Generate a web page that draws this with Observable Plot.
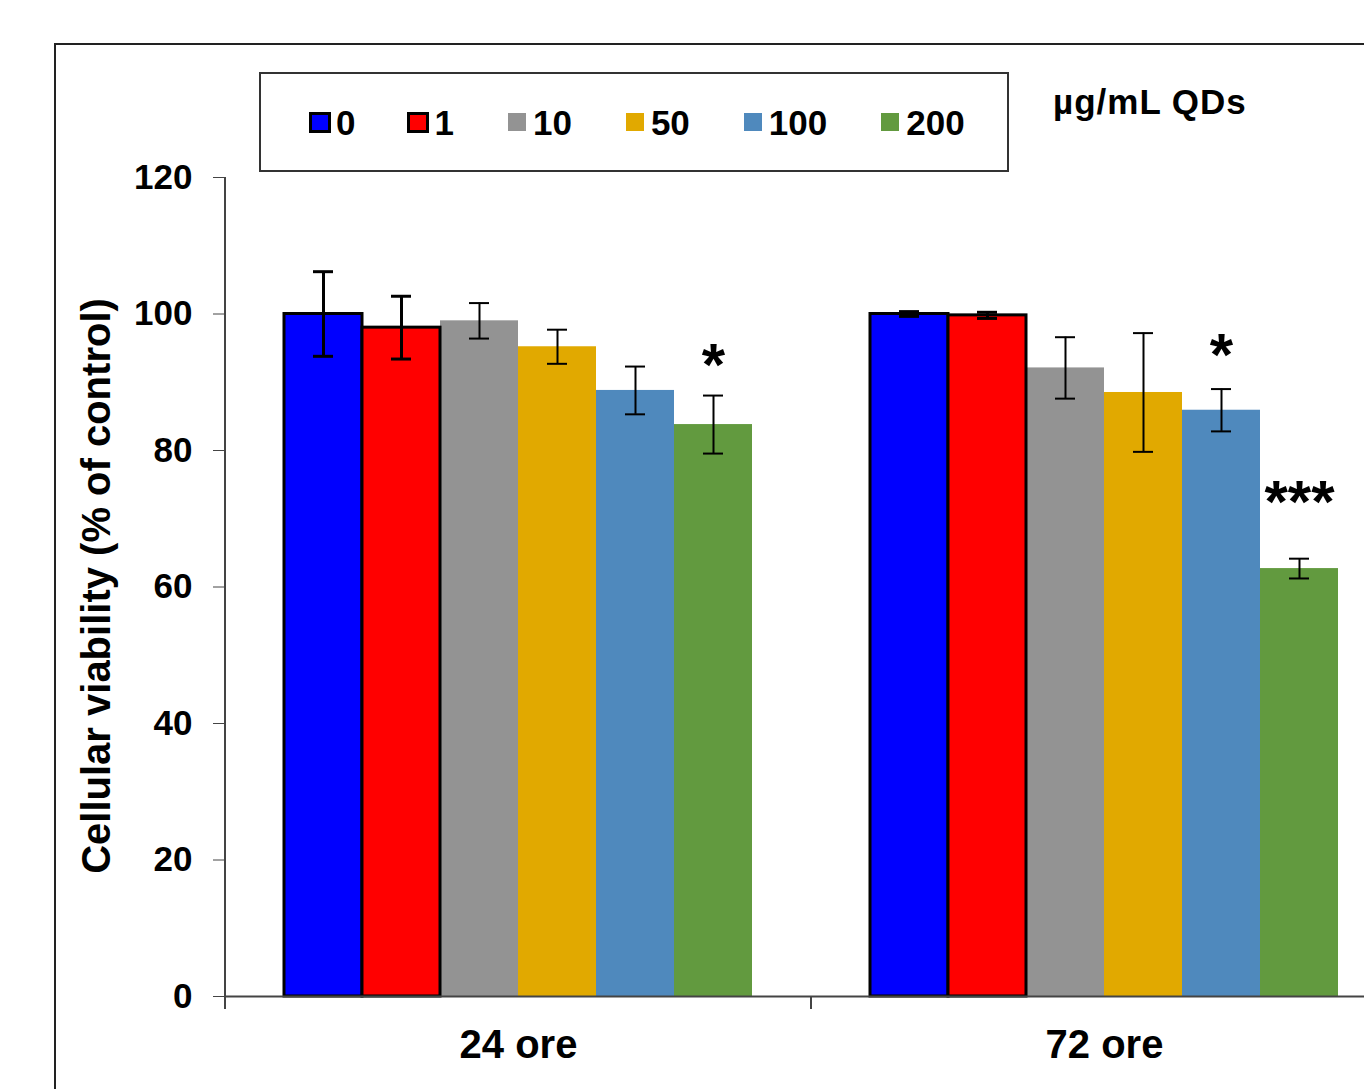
<!DOCTYPE html>
<html>
<head>
<meta charset="utf-8">
<script src="https://cdn.jsdelivr.net/npm/d3@7"></script>
<script src="https://cdn.jsdelivr.net/npm/@observablehq/plot@0.6"></script>
<style>
  html, body { margin: 0; padding: 0; background: #fff; overflow: hidden; }
  #wrap { position: relative; width: 1364px; height: 1089px; overflow: hidden;
          font-family: "Liberation Sans", Arial, sans-serif; font-weight: bold; color: #000; }
  #frame { position: absolute; left: 54px; top: 43px; width: 2000px; height: 2000px; border: 2px solid #222; }
  #chart { position: absolute; left: 0; top: 0; }
  #legend { position: absolute; left: 259px; top: 72px; width: 750px; height: 100px; box-sizing: border-box;
            border: 2px solid #333; display: flex; align-items: center; padding-left: 50px; }
  .item { display: flex; align-items: center; margin-right: 54px; font-size: 35px; line-height: 1; }
  .sw { width: 18px; height: 18px; margin-right: 7px; box-sizing: border-box; }
  .sw.out { width: 22px; height: 21px; border: 3px solid #000; margin-left: -2px; margin-right: 5px; }
  #unit { position: absolute; left: 1053px; top: 84px; font-size: 35px; line-height: 36px; letter-spacing: 1px; }
  #ytitle { position: absolute; left: 96px; top: 586px; transform: translate(-50%, -50%) rotate(-90deg);
            white-space: nowrap; font-size: 40px; line-height: 1; }
</style>
</head>
<body>
<div id="wrap">
  <div id="frame"></div>
  <div id="chart"></div>
  <div id="legend"></div>
  <div id="unit">µg/mL QDs</div>
  <div id="ytitle">Cellular viability (% of control)</div>
</div>
<script>
// ---- data ----
const groups = ["24 ore", "72 ore"];
const doses = ["0", "1", "10", "50", "100", "200"];
const colors = ["#0000FF", "#FF0000", "#939393", "#E1A900", "#4F89BD", "#629A3F"];
const mean24 = [100.0, 98.0, 99.0, 95.2, 88.8, 83.8];
const sd24   = [6.2, 4.6, 2.6, 2.5, 3.5, 4.25];
const mean72 = [100.0, 99.8, 92.1, 88.5, 85.9, 62.7];
const sd72   = [0.35, 0.45, 4.5, 8.7, 3.1, 1.45];
const outlinedDoses = ["0", "1"];
const yTicks = [0, 20, 40, 60, 80, 100, 120];
const starGroups = ["24 ore", "72 ore", "72 ore"];
const starDoses = ["200", "100", "200"];
const starText = ["*", "*", "***"];
const starY = [95.9, 97.3, 75.8];

// ---- tables ----
const rows = [];
doses.forEach((d, i) => {
  rows.push({group: groups[0], dose: d, mean: mean24[i], sd: sd24[i]});
  rows.push({group: groups[1], dose: d, mean: mean72[i], sd: sd72[i]});
});
const outRows = rows.filter(r => outlinedDoses.includes(r.dose));
const plainRows = rows.filter(r => !outlinedDoses.includes(r.dose));
const stars = starText.map((t, i) => ({group: starGroups[i], dose: starDoses[i], y: starY[i], text: t}));

// ---- legend ----
const legend = document.getElementById("legend");
doses.forEach((d, i) => {
  const it = document.createElement("div");
  it.className = "item";
  const sw = document.createElement("div");
  sw.className = "sw" + (outlinedDoses.includes(d) ? " out" : "");
  sw.style.background = colors[i];
  const tx = document.createElement("span");
  tx.textContent = d;
  it.appendChild(sw); it.appendChild(tx);
  legend.appendChild(it);
});

// ---- plot ----
const errMarks = (data, w) => [
  Plot.ruleX(data, {fx: "group", x: "dose", y1: d => d.mean - d.sd, y2: d => d.mean + d.sd, stroke: "#000", strokeWidth: w}),
  Plot.tickY(data, {fx: "group", x: "dose", y: d => d.mean + d.sd, stroke: "#000", strokeWidth: w, insetLeft: 29, insetRight: 29}),
  Plot.tickY(data, {fx: "group", x: "dose", y: d => d.mean - d.sd, stroke: "#000", strokeWidth: w, insetLeft: 29, insetRight: 29})
];

const plot = Plot.plot({
  width: 1430, height: 1089,
  marginLeft: 225, marginRight: 33, marginTop: 177, marginBottom: 93,
  style: {fontFamily: "Liberation Sans, Arial, sans-serif", fontWeight: "bold", fontSize: "35px",
          color: "#000", background: "transparent", maxWidth: "none", overflow: "visible"},
  fx: {domain: groups, padding: 0},
  x: {domain: doses, paddingInner: 0, paddingOuter: 0.75, axis: null},
  y: {domain: [0, 120], axis: null},
  color: {type: "ordinal", domain: doses, range: colors},
  marks: [
    Plot.barY(rows, {fx: "group", x: "dose", y: "mean", fill: "dose"}),
    Plot.barY(outRows, {fx: "group", x: "dose", y: "mean", fill: "dose", stroke: "#000", strokeWidth: 3}),
    Plot.ruleY([0], {stroke: "#444", strokeWidth: 2}),
    ...errMarks(plainRows, 2),
    ...errMarks(outRows, 3),
    Plot.text(stars, {fx: "group", x: "dose", y: "y", text: "text", fontSize: 60, lineAnchor: "top", fill: "#000"}),
    Plot.axisY({ticks: yTicks, tickSize: 12, tickPadding: 21, label: null, fontSize: 35, stroke: "#444"}),
    Plot.axisFx({anchor: "bottom", tickSize: 0, tickPadding: 33, label: null, fontSize: 40})
  ]
});
document.getElementById("chart").appendChild(plot);

// axis line and category boundary ticks, placed with Plot's own scales
const fx = plot.scale("fx"), ys = plot.scale("y");
const svg = d3.select(plot);
const x0 = fx.apply(groups[0]);
const y0 = ys.apply(0), yTop = ys.apply(120);
const bounds = groups.map(g => fx.apply(g)).concat([fx.apply(groups[groups.length - 1]) + fx.bandwidth]);
svg.append("line").attr("x1", x0).attr("x2", x0).attr("y1", yTop).attr("y2", y0)
  .attr("stroke", "#444").attr("stroke-width", 2);
svg.selectAll("line.bt").data(bounds).join("line").attr("class", "bt")
  .attr("x1", d => d).attr("x2", d => d).attr("y1", y0).attr("y2", y0 + 13)
  .attr("stroke", "#444").attr("stroke-width", 2);
</script>
</body>
</html>
